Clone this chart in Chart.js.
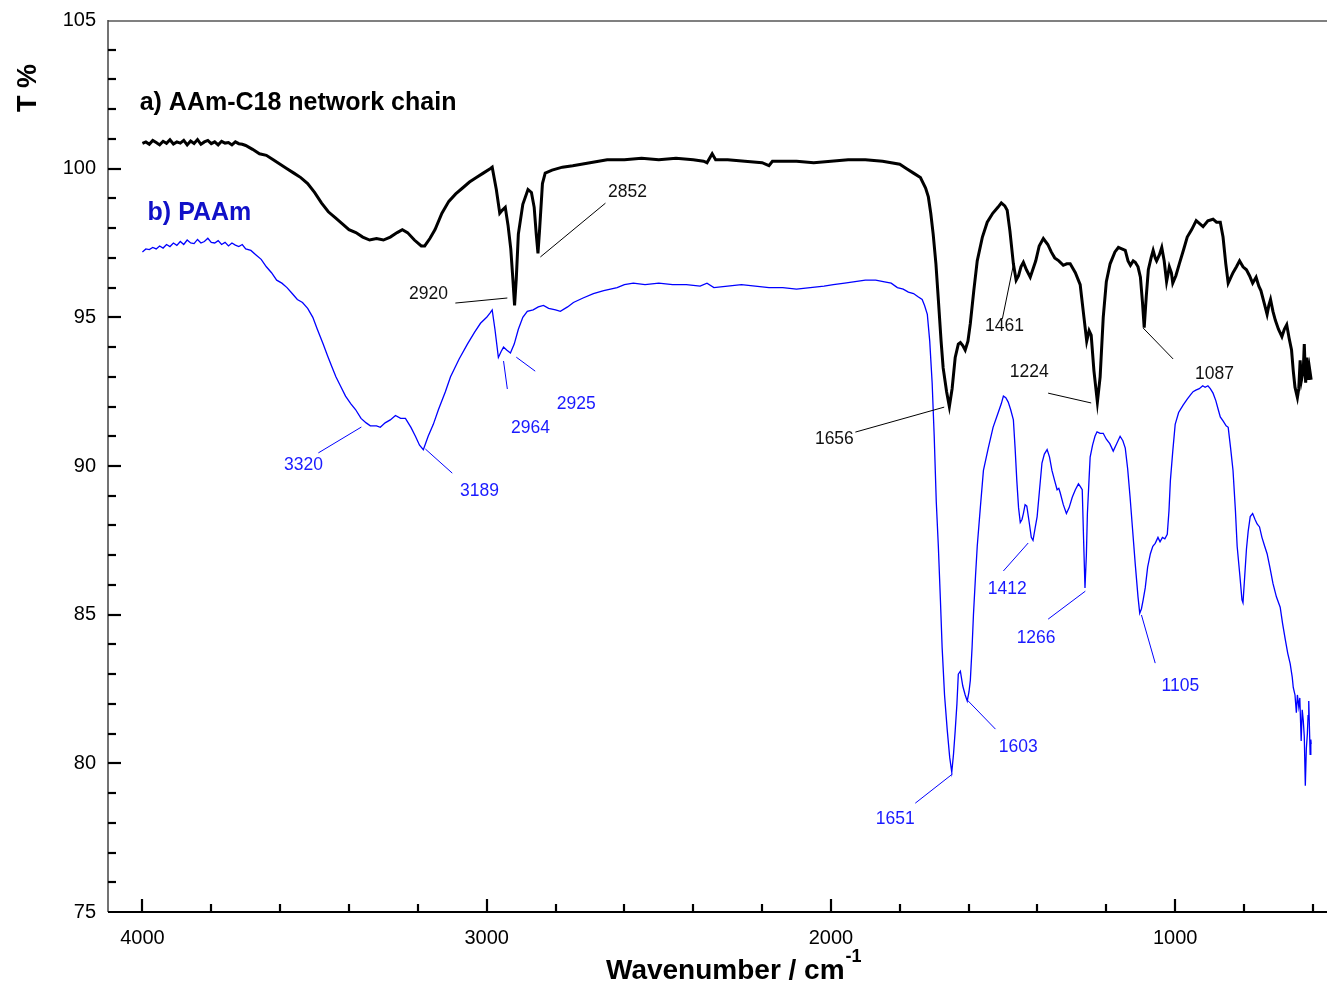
<!DOCTYPE html>
<html><head><meta charset="utf-8">
<script src="https://cdn.jsdelivr.net/npm/chart.js@4.4.1/dist/chart.umd.min.js"></script>
<style>html,body{margin:0;padding:0;background:#fff;overflow:hidden}#wrap{width:1327px;height:985px}</style>
</head><body><div id="wrap"><canvas id="c" width="1327" height="985"></canvas></div>
<script>
// ---- data (wavenumber cm-1, transmittance %) ----
const wavenumbersA = [4000,3990,3980,3970,3960,3950,3940,3930,3920,3910,3900,3890,3880,3870,3860,3850,3840,3830,3820,3810,3800,3790,3780,3770,3760,3750,3740,3730,3720,3710,3700,3680,3660,3640,3620,3600,3580,3560,3540,3520,3500,3480,3460,3440,3420,3400,3380,3360,3340,3320,3300,3280,3260,3245,3230,3210,3190,3180,3165,3150,3130,3110,3090,3070,3050,3030,3010,2990,2984,2972,2962,2955,2946,2938,2930,2924,2919,2914,2908,2895,2880,2870,2862,2856,2851,2846,2838,2830,2810,2780,2750,2700,2650,2600,2550,2500,2450,2400,2370,2360,2345,2335,2300,2250,2200,2180,2170,2100,2050,2000,1950,1900,1850,1800,1780,1760,1740,1725,1717,1710,1703,1695,1688,1680,1674,1664,1656,1648,1639,1630,1624,1617,1610,1602,1595,1585,1575,1560,1546,1530,1515,1505,1495,1488,1480,1470,1462,1455,1448,1441,1432,1421,1405,1395,1383,1370,1360,1350,1338,1325,1315,1305,1290,1276,1265,1257,1250,1244,1236,1226,1218,1209,1200,1189,1175,1165,1155,1145,1137,1130,1122,1116,1108,1101,1095,1090,1084,1078,1070,1064,1058,1054,1046,1039,1032,1025,1020,1017,1011,1007,998,988,975,965,952,939,929,919,905,890,880,869,861,853,846,840,832,822,813,803,793,784,775,765,757,751,742,733,728,723,716,709,700,690,683,676,669,662,657,652,645,641,637,633,628,625,621,617,614,610,605];
const transmittanceA = [100.85,100.9,100.82,100.95,100.88,100.8,100.92,100.85,100.97,100.83,100.9,100.86,100.95,100.8,100.93,100.85,100.98,100.82,100.9,100.95,100.84,100.9,100.8,100.92,100.86,100.88,100.8,100.9,100.84,100.82,100.78,100.65,100.5,100.45,100.3,100.15,100.0,99.85,99.7,99.5,99.2,98.85,98.55,98.35,98.15,97.95,97.85,97.7,97.6,97.65,97.6,97.7,97.85,97.95,97.85,97.6,97.4,97.4,97.65,97.95,98.5,98.9,99.15,99.35,99.55,99.7,99.85,100.0,100.05,99.3,98.5,98.6,98.7,98.1,97.3,96.3,95.4,96.3,97.8,98.8,99.3,99.2,98.7,97.8,97.15,98.0,99.5,99.85,99.95,100.05,100.1,100.2,100.3,100.3,100.35,100.3,100.35,100.3,100.25,100.2,100.5,100.3,100.3,100.25,100.2,100.1,100.25,100.25,100.2,100.25,100.3,100.3,100.25,100.15,100.0,99.85,99.7,99.35,99.05,98.5,97.8,96.8,95.6,94.2,93.3,92.5,92.0,92.6,93.65,94.1,94.15,94.05,93.9,94.2,94.8,95.9,96.9,97.7,98.2,98.5,98.7,98.85,98.75,98.6,97.9,96.8,96.25,96.4,96.7,96.85,96.6,96.35,96.9,97.4,97.65,97.45,97.2,97.0,96.9,96.75,96.8,96.8,96.5,96.1,95.0,94.2,94.55,94.4,93.2,92.15,93.0,95.0,96.2,96.8,97.2,97.35,97.3,97.25,96.9,96.75,96.9,96.85,96.7,96.35,95.5,94.65,95.7,96.6,97.0,97.25,97.0,96.9,97.1,97.35,96.9,96.2,96.5,96.7,96.5,96.15,96.4,96.8,97.3,97.7,97.95,98.25,98.15,98.05,98.25,98.3,98.2,98.2,97.7,96.8,96.15,96.3,96.5,96.7,96.9,96.7,96.6,96.4,96.15,96.35,96.05,95.9,95.5,95.1,95.4,95.6,95.2,94.9,94.6,94.35,94.6,94.75,94.3,93.9,93.2,92.65,92.3,92.6,93.55,92.9,93.2,94.1,92.8,93.65,92.9,93.3,92.9];

const wavenumbersB = [4000,3990,3980,3970,3960,3950,3940,3930,3920,3910,3900,3890,3880,3870,3860,3850,3840,3830,3820,3810,3800,3790,3780,3770,3760,3750,3740,3730,3720,3710,3700,3685,3670,3655,3640,3625,3610,3595,3580,3565,3550,3535,3520,3505,3492,3475,3462,3450,3438,3425,3410,3395,3381,3365,3350,3338,3320,3309,3295,3280,3265,3250,3236,3220,3207,3195,3184,3170,3155,3140,3120,3105,3080,3056,3035,3018,3000,2990,2984,2976,2966,2958,2951,2942,2931,2920,2908,2895,2882,2865,2850,2835,2820,2800,2786,2765,2748,2720,2690,2660,2621,2600,2574,2540,2500,2460,2420,2380,2360,2340,2300,2260,2220,2180,2140,2100,2060,2020,1993,1960,1930,1900,1870,1848,1825,1807,1790,1775,1760,1748,1735,1728,1720,1713,1706,1700,1694,1688,1682,1677,1670,1662,1655,1649,1644,1639,1634,1630,1624,1617,1610,1604,1599,1595,1590,1586,1580,1575,1566,1557,1543,1529,1514,1505,1499,1492,1485,1478,1470,1465,1460,1455,1450,1445,1441,1436,1431,1424,1418,1413,1407,1401,1394,1387,1380,1372,1365,1358,1350,1343,1338,1334,1325,1316,1308,1299,1290,1281,1275,1270,1266,1262,1258,1255,1250,1247,1240,1233,1227,1218,1209,1200,1190,1180,1170,1160,1152,1145,1138,1131,1124,1116,1108,1103,1098,1093,1087,1080,1072,1065,1058,1050,1044,1037,1030,1023,1018,1014,1007,1000,990,977,965,955,948,940,930,920,913,905,898,890,882,875,869,860,852,846,839,832,825,820,812,806,803,798,793,788,782,775,768,762,755,748,740,733,725,716,706,695,688,680,673,666,660,657,652,648,645,641,638,634,631,628,625,622,619,616,614,612,610,608,606,605];
const transmittanceB = [97.2,97.3,97.28,97.35,97.3,97.4,97.33,97.45,97.38,97.5,97.42,97.55,97.45,97.6,97.5,97.48,97.62,97.5,97.55,97.66,97.52,97.5,97.58,97.45,97.52,97.4,97.5,97.43,97.38,97.45,97.3,97.25,97.1,96.95,96.7,96.5,96.25,96.15,96.0,95.8,95.6,95.5,95.3,95.0,94.6,94.1,93.7,93.35,93.0,92.7,92.35,92.1,91.9,91.6,91.45,91.35,91.35,91.3,91.45,91.55,91.7,91.6,91.6,91.3,91.0,90.7,90.55,91.0,91.4,91.9,92.5,93.0,93.6,94.1,94.5,94.8,95.0,95.15,95.25,94.6,93.65,93.85,94.0,93.9,93.8,94.1,94.6,95.0,95.2,95.25,95.35,95.4,95.3,95.25,95.2,95.35,95.5,95.65,95.8,95.9,96.0,96.1,96.15,96.1,96.15,96.1,96.1,96.05,96.15,96.0,96.05,96.1,96.05,96.0,96.0,95.95,96.0,96.05,96.1,96.15,96.2,96.25,96.25,96.2,96.15,96.0,95.95,95.85,95.8,95.7,95.6,95.4,95.1,94.2,92.8,91.0,88.8,87.3,85.5,83.9,82.3,81.1,80.2,79.7,80.3,81.1,82.0,83.0,83.1,82.6,82.3,82.1,82.4,82.8,83.9,85.0,86.3,87.3,88.6,89.85,90.6,91.3,91.8,92.1,92.35,92.3,92.15,91.9,91.55,90.6,89.5,88.6,88.1,88.2,88.4,88.7,88.65,88.1,87.6,87.5,87.9,88.3,89.2,90.1,90.4,90.55,90.3,89.85,89.5,89.2,89.25,89.1,88.7,88.4,88.6,88.95,89.2,89.4,89.3,89.2,87.5,85.9,87.0,88.4,89.6,90.3,90.7,91.0,91.15,91.1,91.1,90.9,90.75,90.5,90.75,91.0,90.85,90.6,89.9,88.95,87.9,86.7,85.6,85.05,85.2,85.5,85.9,86.6,87.05,87.3,87.4,87.6,87.45,87.6,87.55,87.7,88.5,89.5,90.5,91.4,91.8,92.05,92.25,92.4,92.5,92.55,92.6,92.7,92.65,92.7,92.6,92.45,92.2,91.9,91.65,91.5,91.35,91.3,90.6,89.85,88.5,87.3,86.3,85.5,85.4,86.3,87.2,87.8,88.3,88.4,88.2,88.05,87.95,87.6,87.3,87.05,86.6,86.05,85.6,85.25,84.7,84.15,83.7,83.35,82.9,82.55,82.3,81.7,82.3,81.9,82.2,80.75,81.8,81.45,80.9,79.25,80.5,81.0,81.6,82.1,81.2,80.3,80.8,80.65];

const xTickValues = [4000, 3000, 2000, 1000];
const xMinorTickValues = [3800,3600,3400,3200,2800,2600,2400,2200,1800,1600,1400,1200,800,600];
const yTickValues = [75, 80, 85, 90, 95, 100, 105];
const yMinorTickValues = [76,77,78,79,81,82,83,84,86,87,88,89,91,92,93,94,96,97,98,99,101,102,103,104];

const seriesNames = ['a) AAm-C18 network chain', 'b) PAAm'];
const seriesNamePos = [[4008, 102.21], [3985, 98.51]];

// peak labels: [text, series index, textX, textY, lineStartX, lineStartY, lineEndX, lineEndY] (data units)
const peakLabels = [
  ['2920', 0, 3169, 95.78, 3091, 95.48, 2940, 95.65],
  ['2852', 0, 2591, 99.21, 2655, 98.84, 2844, 97.03],
  ['1656', 0, 1990, 90.91, 1929, 91.14, 1671, 91.98],
  ['1461', 0, 1496, 94.71, 1502, 94.95, 1470, 96.76],
  ['1224', 0, 1424, 93.16, 1369, 92.45, 1244, 92.12],
  ['1087', 0, 886, 93.09, 1093, 94.64, 1006, 93.60],
  ['3320', 1, 3532, 90.03, 3489, 90.44, 3364, 91.31],
  ['3189', 1, 3021, 89.16, 3100, 89.76, 3178, 90.57],
  ['2964', 1, 2873, 91.28, 2940, 92.59, 2951, 93.53],
  ['2925', 1, 2740, 92.08, 2859, 93.19, 2914, 93.66],
  ['1651', 1, 1813, 78.13, 1755, 78.66, 1647, 79.64],
  ['1603', 1, 1456, 80.55, 1522, 81.15, 1604, 82.13],
  ['1412', 1, 1488, 85.86, 1499, 86.47, 1427, 87.41],
  ['1266', 1, 1404, 84.21, 1369, 84.85, 1261, 85.79],
  ['1105', 1, 985, 82.60, 1058, 83.37, 1098, 84.99]
];

const FONT = "'Liberation Sans', Arial, Helvetica, sans-serif";
const lineColors = ['#000000', '#0000ff'];
const labelColors = ['#111111', '#1a1aff'];
const nameColors = ['#000000', '#1010c8'];

const decor = {
  id: 'decor',
  beforeDatasetsDraw(chart) {
    const ctx = chart.ctx, ca = chart.chartArea;
    const xs = chart.scales.x, ys = chart.scales.y;
    ctx.save();
    ctx.strokeStyle = '#808080'; ctx.lineWidth = 2;
    ctx.beginPath(); ctx.moveTo(ca.left, ca.top + 1); ctx.lineTo(ca.right, ca.top + 1); ctx.stroke();
    ctx.strokeStyle = '#444'; ctx.lineWidth = 1.5;
    ctx.beginPath(); ctx.moveTo(ca.left, ca.top); ctx.lineTo(ca.left, ca.bottom); ctx.stroke();
    ctx.strokeStyle = '#000'; ctx.lineWidth = 2;
    ctx.beginPath(); ctx.moveTo(ca.left, ca.bottom); ctx.lineTo(ca.right, ca.bottom); ctx.stroke();
    ctx.lineWidth = 2.2; ctx.strokeStyle = '#000';
    const tick = (x1, y1, x2, y2) => { ctx.beginPath(); ctx.moveTo(x1, y1); ctx.lineTo(x2, y2); ctx.stroke(); };
    xTickValues.forEach(v => { const p = Math.round(xs.getPixelForValue(v)); tick(p, ca.bottom, p, ca.bottom - 13); });
    xMinorTickValues.forEach(v => { const p = Math.round(xs.getPixelForValue(v)); tick(p, ca.bottom, p, ca.bottom - 8); });
    yTickValues.forEach(v => { if (v === 105 || v === 75) return; const p = Math.round(ys.getPixelForValue(v)); tick(ca.left, p, ca.left + 13, p); });
    yMinorTickValues.forEach(v => { const p = Math.round(ys.getPixelForValue(v)); tick(ca.left, p, ca.left + 8, p); });
    ctx.restore();
  },
  afterDatasetsDraw(chart) {
    const ctx = chart.ctx;
    const xs = chart.scales.x, ys = chart.scales.y;
    ctx.save();
    ctx.font = 'bold 25px ' + FONT; ctx.textAlign = 'left'; ctx.textBaseline = 'middle';
    seriesNames.forEach((n, i) => {
      ctx.fillStyle = nameColors[i];
      ctx.fillText(n, xs.getPixelForValue(seriesNamePos[i][0]), ys.getPixelForValue(seriesNamePos[i][1]));
    });
    ctx.font = '17.5px ' + FONT; ctx.textAlign = 'center'; ctx.textBaseline = 'middle'; ctx.lineWidth = 1;
    peakLabels.forEach(l => {
      ctx.fillStyle = labelColors[l[1]]; ctx.strokeStyle = l[1] === 0 ? '#000' : '#0000ff';
      ctx.fillText(l[0], xs.getPixelForValue(l[2]), ys.getPixelForValue(l[3]));
      ctx.beginPath();
      ctx.moveTo(xs.getPixelForValue(l[4]), ys.getPixelForValue(l[5]));
      ctx.lineTo(xs.getPixelForValue(l[6]), ys.getPixelForValue(l[7]));
      ctx.stroke();
    });
    ctx.fillStyle = '#000';
    ctx.font = 'bold 28px ' + FONT;
    ctx.textAlign = 'left'; ctx.textBaseline = 'alphabetic';
    const xt = 'Wavenumber / cm';
    ctx.fillText(xt, 606, 979);
    const w = ctx.measureText(xt).width;
    ctx.font = 'bold 18px ' + FONT;
    ctx.fillText('-1', 606 + w + 1, 962);
    ctx.save();
    ctx.translate(36, 88); ctx.rotate(-Math.PI / 2);
    ctx.font = 'bold 27px ' + FONT; ctx.textAlign = 'center';
    ctx.fillText('T %', 0, 0);
    ctx.restore();
    ctx.restore();
  }
};

Chart.defaults.font.family = FONT;

new Chart(document.getElementById('c'), {
  type: 'line',
  data: {
    datasets: [
      { label: seriesNames[0], data: wavenumbersA.map((x, i) => ({ x, y: transmittanceA[i] })), borderColor: lineColors[0], borderWidth: 3, pointRadius: 0, tension: 0, fill: false },
      { label: seriesNames[1], data: wavenumbersB.map((x, i) => ({ x, y: transmittanceB[i] })), borderColor: lineColors[1], borderWidth: 1.3, pointRadius: 0, tension: 0, fill: false }
    ]
  },
  options: {
    responsive: false, animation: false, devicePixelRatio: 1,
    layout: { padding: { left: 0, right: 0, top: 20, bottom: 0 } },
    plugins: { legend: { display: false }, tooltip: { enabled: false } },
    scales: {
      x: {
        type: 'linear', reverse: true, min: 559, max: 4100,
        grid: { display: false, drawTicks: false }, border: { display: false },
        afterBuildTicks: s => { s.ticks = xTickValues.map(v => ({ value: v })); },
        afterFit: s => { s.height = 73; s.paddingLeft = 0; s.paddingRight = 0; },
        ticks: { color: '#000', font: { size: 20 }, padding: 14, maxRotation: 0, autoSkip: false, callback: v => String(v) }
      },
      y: {
        type: 'linear', min: 75, max: 105,
        grid: { display: false, drawTicks: false }, border: { display: false },
        afterBuildTicks: s => { s.ticks = yTickValues.map(v => ({ value: v })); },
        afterFit: s => { s.width = 108; s.paddingTop = 0; s.paddingBottom = 0; },
        ticks: { color: '#000', font: { size: 20 }, padding: 12, callback: v => String(v) }
      }
    }
  },
  plugins: [decor]
});
</script>
</body></html>
